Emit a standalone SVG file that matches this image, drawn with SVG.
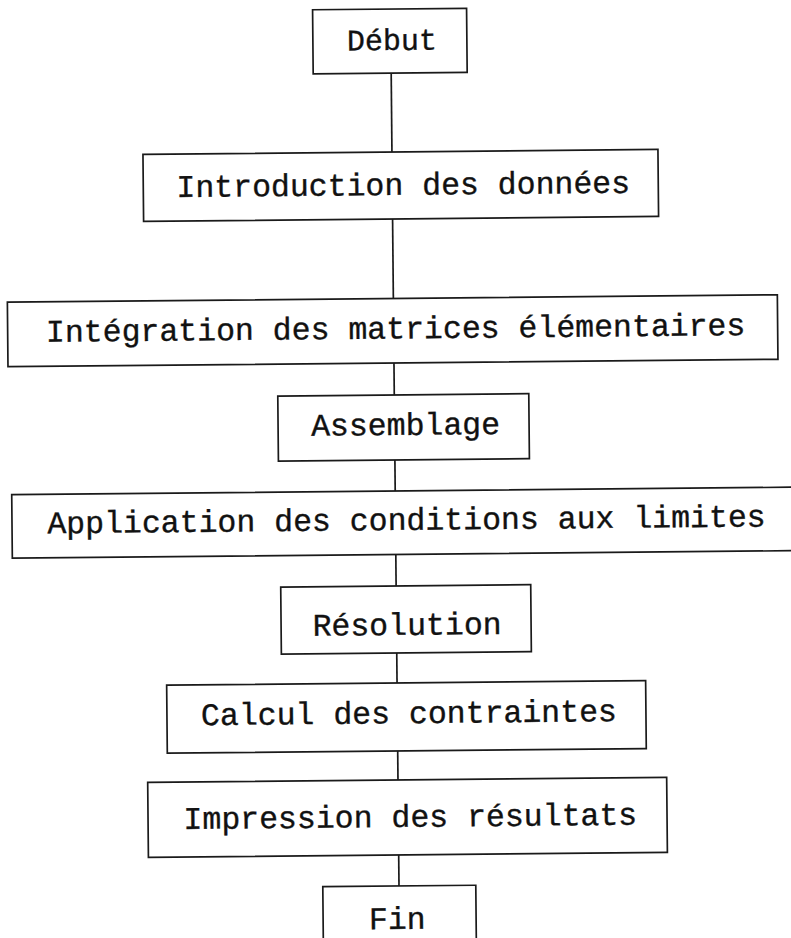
<svg xmlns="http://www.w3.org/2000/svg" width="791" height="938" viewBox="0 0 791 938">
<style>
.box{fill:#fff;stroke:#1a1a1a;stroke-width:1.7}
.lbl{font-family:"Liberation Mono","DejaVu Sans Mono",monospace;font-size:31.5px;fill:#111;text-anchor:middle;stroke:#111;stroke-width:0.35}
.con{stroke:#1a1a1a;stroke-width:1.7;fill:none}
</style>
<rect x="0" y="0" width="791" height="938" fill="#fff"/>
<g transform="rotate(-0.55 395 470)">
<g id="connectors">
<line class="con" x1="395" y1="73" x2="395" y2="152"/>
<line class="con" x1="395" y1="219" x2="395" y2="298.5"/>
<line class="con" x1="395" y1="363" x2="395" y2="395"/>
<line class="con" x1="395" y1="460" x2="395" y2="491"/>
<line class="con" x1="395" y1="554.5" x2="395" y2="586"/>
<line class="con" x1="395" y1="653" x2="395" y2="683"/>
<line class="con" x1="395" y1="751" x2="395" y2="780"/>
<line class="con" x1="395" y1="855" x2="395" y2="886"/>
</g>
<g id="debut">
<rect class="box" x="317" y="9" width="154" height="64"/>
<text class="lbl" x="396" y="50" style="font-size:30px">Début</text>
</g>
<g id="introduction">
<rect class="box" x="146" y="152" width="515" height="67"/>
<text class="lbl" x="406" y="195">Introduction des données</text>
</g>
<g id="integration">
<rect class="box" x="9" y="298.5" width="770" height="64.5"/>
<text class="lbl" x="397" y="338.5">Intégration des matrices élémentaires</text>
</g>
<g id="assemblage">
<rect class="box" x="278.5" y="395" width="251" height="65"/>
<text class="lbl" x="406" y="435">Assemblage</text>
</g>
<g id="application">
<rect class="box" x="11.5" y="491" width="800" height="63.5"/>
<text class="lbl" x="406" y="530">Application des conditions aux limites</text>
</g>
<g id="resolution">
<rect class="box" x="279.6" y="586" width="250" height="67"/>
<text class="lbl" x="405.6" y="635">Résolution</text>
</g>
<g id="calcul">
<rect class="box" x="164.6" y="683" width="479" height="68"/>
<text class="lbl" x="406.6" y="723.3">Calcul des contraintes</text>
</g>
<g id="impression">
<rect class="box" x="144.7" y="780" width="519" height="75"/>
<text class="lbl" x="407" y="827">Impression des résultats</text>
</g>
<g id="fin">
<rect class="box" x="318.8" y="886" width="153" height="70"/>
<text class="lbl" x="393" y="929">Fin</text>
</g>
</g>
</svg>
